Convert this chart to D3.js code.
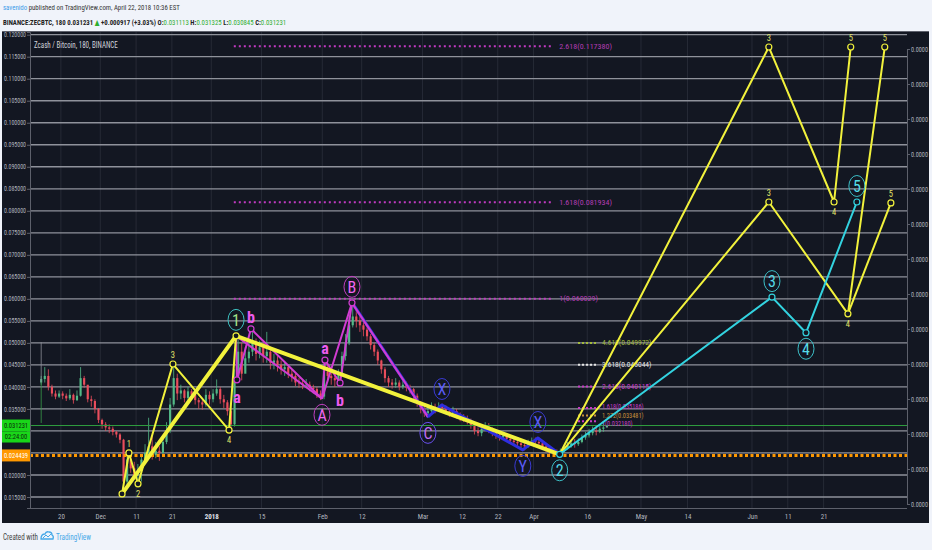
<!DOCTYPE html>
<html>
<head>
<meta charset="utf-8">
<script src="https://cdnjs.cloudflare.com/ajax/libs/d3/7.8.5/d3.min.js"></script>
<style>
  body { margin: 0; background: #f0f3fa; }
  svg { display: block; }
  text { font-family: "Liberation Sans Narrow", "Roboto Condensed", "DejaVu Sans Condensed", "Liberation Sans", sans-serif; }
</style>
</head>
<body>
<div id="chart_div"></div>
<script>
// daily candles from 2017-11-14
var candleStart = '2017-11-14T12:00Z';
var firstOpen = 0.0410;
var closes = [
  0.0418,0.0425,0.0400,0.0385,0.0378,0.0385,0.0380,0.0374,0.0382,0.0370,0.0380,0.0420,0.0405,0.0372,0.0368,0.0350,0.0325,
  0.0315,0.0308,0.0305,0.0298,0.0292,0.0280,0.0185,0.0235,0.0215,0.0200,0.0210,0.0235,0.0250,0.0265,0.0245,0.0255,0.0250,0.0275,0.0300,0.0360,0.0420,0.0385,0.0392,0.0375,0.0390,0.0382,0.0370,0.0365,0.0360,0.0382,0.0372,
  0.0385,0.0395,0.0372,0.0365,0.0345,0.0315,0.0420,0.0480,0.0430,0.0465,0.0480,0.0500,0.0475,0.0490,0.0470,0.0480,0.0455,0.0460,0.0450,0.0440,0.0445,0.0430,0.0425,0.0410,0.0408,0.0405,0.0405,0.0398,0.0395,0.0385,
  0.0378,0.0435,0.0425,0.0420,0.0415,0.0430,0.0470,0.0500,0.0540,0.0560,0.0550,0.0540,0.0530,0.0515,0.0495,0.0480,0.0460,0.0440,0.0420,0.0410,0.0405,0.0410,0.0400,0.0405,0.0398,0.0395,0.0380,0.0365,
  0.0350,0.0340,0.0345,0.0355,0.0350,0.0355,0.0352,0.0345,0.0340,0.0345,0.0335,0.0330,0.0328,0.0322,0.0312,0.0300,0.0295,0.0305,0.0310,0.0300,0.0295,0.0290,0.0285,0.0290,0.0282,0.0278,0.0275,0.0272,0.0268,0.0265,0.0272,
  0.0278,0.0275,0.0272,0.0265,0.0258,0.0255,0.0252,0.0250,0.0255,0.0262,0.0268,0.0272,0.0270,0.0275,0.0285,0.0290,0.0295,0.0300,0.0298,0.0305,0.0308,0.031231
];
var highs = [
  0.0425,0.0445,0.0440,0.0405,0.0392,0.0392,0.0390,0.0385,0.0395,0.0385,0.0392,0.0445,0.0425,0.0390,0.0380,0.0372,0.0352,
  0.0328,0.0320,0.0315,0.0310,0.0300,0.0295,0.0282,0.0250,0.0252,0.0230,0.0225,0.0245,0.0270,0.0330,0.0290,0.0275,0.0265,0.0290,0.0320,0.0375,0.0451,0.0430,0.0405,0.0395,0.0400,0.0395,0.0388,0.0375,0.0370,0.0395,0.0390,
  0.0395,0.0417,0.0400,0.0382,0.0370,0.0350,0.0440,0.0514,0.0500,0.0490,0.0500,0.0530,0.0510,0.0505,0.0500,0.0525,0.0485,0.0475,0.0470,0.0460,0.0458,0.0450,0.0440,0.0430,0.0420,0.0418,0.0418,0.0412,0.0405,0.0400,
  0.0392,0.0460,0.0450,0.0440,0.0435,0.0440,0.0480,0.0520,0.0560,0.0589,0.0575,0.0560,0.0550,0.0535,0.0520,0.0500,0.0485,0.0462,0.0445,0.0425,0.0418,0.0420,0.0415,0.0418,0.0412,0.0405,0.0398,0.0385,
  0.0368,0.0355,0.0355,0.0365,0.0362,0.0365,0.0362,0.0358,0.0352,0.0355,0.0350,0.0342,0.0338,0.0335,0.0328,0.0318,0.0308,0.0315,0.0320,0.0318,0.0308,0.0302,0.0298,0.0298,0.0295,0.0290,0.0285,0.0282,0.0278,0.0272,0.0280,
  0.0285,0.0285,0.0283,0.0278,0.0270,0.0262,0.0260,0.0258,0.0260,0.0268,0.0275,0.0280,0.0282,0.0283,0.0292,0.0298,0.0305,0.0310,0.0312,0.0315,0.0318,0.031325
];
var lows = [
  0.0405,0.0410,0.0392,0.0378,0.0372,0.0375,0.0372,0.0368,0.0370,0.0362,0.0368,0.0378,0.0398,0.0365,0.0355,0.0340,0.0318,
  0.0305,0.0300,0.0295,0.0290,0.0285,0.0272,0.0155,0.0170,0.0205,0.0190,0.0180,0.0185,0.0225,0.0240,0.0235,0.0238,0.0232,0.0245,0.0270,0.0295,0.0355,0.0370,0.0372,0.0365,0.0370,0.0372,0.0360,0.0350,0.0348,0.0355,0.0360,
  0.0365,0.0380,0.0362,0.0352,0.0335,0.0302,0.0310,0.0410,0.0415,0.0440,0.0455,0.0470,0.0460,0.0465,0.0455,0.0455,0.0440,0.0440,0.0435,0.0428,0.0425,0.0420,0.0412,0.0402,0.0398,0.0395,0.0397,0.0390,0.0385,0.0375,
  0.0370,0.0372,0.0410,0.0405,0.0400,0.0405,0.0425,0.0460,0.0495,0.0535,0.0535,0.0525,0.0515,0.0505,0.0485,0.0470,0.0450,0.0430,0.0410,0.0400,0.0396,0.0398,0.0392,0.0395,0.0390,0.0385,0.0370,0.0355,
  0.0340,0.0332,0.0331,0.0340,0.0340,0.0345,0.0342,0.0338,0.0332,0.0335,0.0328,0.0322,0.0320,0.0315,0.0305,0.0292,0.0288,0.0288,0.0300,0.0295,0.0288,0.0282,0.0278,0.0280,0.0276,0.0270,0.0268,0.0265,0.0262,0.0256,0.0262,
  0.0268,0.0268,0.0265,0.0258,0.0252,0.0248,0.0247,0.0246,0.0248,0.0250,0.0258,0.0262,0.0262,0.0266,0.0272,0.0280,0.0285,0.0290,0.0290,0.0295,0.0298,0.030845
];

var lastPrice = 0.031231;
var supportPrice = 0.024439;

var priceTicks = [0.015,0.020,0.025,0.030,0.035,0.040,0.045,0.050,0.055,0.060,0.065,0.070,0.075,0.080,0.085,0.090,0.095,0.100,0.105,0.110,0.115,0.120];
var dateTicks = ['2017-11-20','2017-12-01','2017-12-11','2017-12-21','2018-01-01','2018-01-15','2018-02-01','2018-02-12','2018-03-01','2018-03-12','2018-03-22','2018-04-01','2018-04-16','2018-05-01','2018-05-14','2018-06-01','2018-06-11','2018-06-21'];
var dateTickLabels = ['20','Dec','11','21','2018','15','Feb','12','Mar','12','22','Apr','16','May','14','Jun','11','21'];
var rightTicks = [0,1,2,3,4,5,6,7,8,9,10,11,12,13];

// wave drawings (time, price)
var yellowWave = [['2017-12-07T02:00Z',0.0157],['2017-12-09T00:00Z',0.0250],['2017-12-11T13:00Z',0.0180],['2017-12-21T07:00Z',0.0452],['2018-01-05T23:00Z',0.0302],['2018-01-07T22:00Z',0.0516]];
var yellowWaveLabels = [['',0],['1',-1],['2',1],['3',-1],['4',1],['',0]];
var yellowTrend = [['2017-12-07T02:00Z',0.0157],['2018-01-07T22:00Z',0.0516],['2018-04-08T07:00Z',0.0247]];
var pinkWaveA = [['2018-01-07T22:00Z',0.0516],['2018-01-08T04:00Z',0.0416],['2018-01-12T02:00Z',0.0532],['2018-01-31T22:00Z',0.0373]];
var pinkWaveB = [['2018-01-31T22:00Z',0.0373],['2018-02-01T18:00Z',0.0461],['2018-02-05T23:00Z',0.0409],['2018-02-09T07:00Z',0.0591]];
var pinkLegs = [
  [['2018-01-07T22:00Z',0.0516],['2018-01-31T22:00Z',0.0373]],
  [['2018-01-31T22:00Z',0.0373],['2018-02-09T07:00Z',0.0591]],
  [['2018-02-09T07:00Z',0.0591],['2018-03-02T12:00Z',0.0332]]
];
var blueLeg = [['2018-02-09T12:00Z',0.0589],['2018-03-02T16:00Z',0.0331]];
var blueWave = [['2018-03-02T12:00Z',0.0332],['2018-03-06T10:00Z',0.0359],['2018-03-29T00:00Z',0.0257],['2018-04-02T05:00Z',0.0284],['2018-04-08T07:00Z',0.0247]];
var cyanWave = [['2018-04-08T07:00Z',0.0247],['2018-06-06T14:00Z',0.0604],['2018-06-16T02:00Z',0.0523],['2018-06-30T07:00Z',0.0820]];
var yellowProjHigh = [['2018-04-08T07:00Z',0.0247],['2018-06-05T17:00Z',0.1172],['2018-06-23T22:00Z',0.0820],['2018-06-28T14:00Z',0.1172]];
var yellowProjLow = [['2018-04-08T07:00Z',0.0247],['2018-06-05T17:00Z',0.0820],['2018-06-27T19:00Z',0.0566],['2018-07-08T02:00Z',0.1172]];
var yellowProjAlt = [['2018-06-27T19:00Z',0.0566],['2018-07-09T19:00Z',0.0818]];
var projLabels = [['',0],['3',-1],['4',1],['5',-1]];
var projAltLabels = [['',0],['5',-1]];

var circleLabels = [
  ['1','2018-01-07T22:00Z',0.0516,-1,'teal1'],
  ['A','2018-01-31T22:00Z',0.0373,1,'pink'],
  ['B','2018-02-09T07:00Z',0.0591,-1,'pink'],
  ['C','2018-03-02T12:00Z',0.0332,1,'violet'],
  ['X','2018-03-06T10:00Z',0.0359,-1,'blue'],
  ['Y','2018-03-29T00:00Z',0.0257,1,'blue'],
  ['X','2018-04-02T05:00Z',0.0284,-1,'blue'],
  ['2','2018-04-08T07:00Z',0.0247,1,'teal'],
  ['3','2018-06-06T14:00Z',0.0604,-1,'teal'],
  ['4','2018-06-16T02:00Z',0.0523,1,'teal'],
  ['5','2018-06-30T07:00Z',0.0820,-1,'teal']
];
var pinkLetters = [
  ['b','2018-01-12T02:00Z',0.0532,-1],
  ['a','2018-01-08T04:00Z',0.0416,1],
  ['a','2018-02-01T18:00Z',0.0461,-1],
  ['b','2018-02-05T23:00Z',0.0409,1]
];

var fibTop = [['2.618',0.117380],['1.618',0.081934],['1',0.060029]];
var fibTopSpan = ['2018-01-07T07:00Z','2018-04-06T12:00Z'];
var fibRight = [['4.618',0.049972],['3.618',0.045044],['2.618',0.040115],['1.618',0.035186],['1.272',0.033481],['1',0.032180]];
var fibRightSpan = ['2018-04-13T10:00Z','2018-04-19T00:00Z'];
var fibRightColors = ['#a3bb3c','#e6e6e6','#c63cc6','#c63cc6','#c8903c','#c63cc6'];

function zcash_chart() {
    var W = 932, H = 550;
    var plot = {left: 30, right: 907, top: 32, bottom: 508};
    var parse = function (s) { return new Date(s); };

    var x = d3.scaleUtc()
        .domain([new Date(Date.UTC(2017, 10, 11, 9)), new Date(Date.UTC(2018, 6, 14, 7))])
        .range([plot.left, plot.right]);
    var y = d3.scaleLinear()
        .domain([0.0125, 0.12061])
        .range([plot.bottom, plot.top]);
    var yRight = d3.scaleLinear().domain([0, 13]).range([504, 49]);

    var svg = d3.select('#chart_div').append('svg')
        .attr('width', W).attr('height', H);

    svg.append('rect').attr('width', W).attr('height', H).attr('fill', '#f0f3fa');
    svg.append('rect').attr('x', 2).attr('y', 31).attr('width', 927).attr('height', 492).attr('fill', '#131722');
    svg.append('line').attr('x1', 2).attr('x2', 929).attr('y1', 31.5).attr('y2', 31.5).attr('stroke', '#5d606b');

    svg.append('clipPath').attr('id', 'plotclip').append('rect')
        .attr('x', plot.left).attr('y', plot.top)
        .attr('width', plot.right - plot.left).attr('height', plot.bottom - plot.top);

    // squeeze a text horizontally to the width seen in the picture
    function squeeze(sel, w) {
        var len = sel.node().getComputedTextLength();
        var x0 = +sel.attr('x'), y0 = +sel.attr('y');
        if (len > 0) sel.attr('transform', 'translate(' + x0 + ',' + y0 + ') scale(' + (w / len) + ',1) translate(' + (-x0) + ',' + (-y0) + ')');
    }

    // grid
    var grid = svg.append('g');
    grid.selectAll('line.v').data(dateTicks).enter().append('line')
        .attr('x1', d => x(parse(d))).attr('x2', d => x(parse(d)))
        .attr('y1', plot.top).attr('y2', plot.bottom)
        .attr('stroke', '#262a36').attr('stroke-width', 1);
    grid.selectAll('line.h').data(priceTicks).enter().append('line')
        .attr('x1', plot.left).attr('x2', plot.right)
        .attr('y1', d => y(d)).attr('y2', d => y(d))
        .attr('stroke', '#8f929b').attr('stroke-width', 1.3);

    var chart = svg.append('g').attr('clip-path', 'url(#plotclip)');

    // candles
    var day0 = parse(candleStart);
    var candles = closes.map(function (c, i) {
        return {t: d3.utcDay.offset(day0, i), o: i === 0 ? firstOpen : closes[i - 1], c: c, h: highs[i], l: lows[i]};
    });
    var bw = (x(d3.utcDay.offset(day0, 1)) - x(day0)) * 0.6;
    var cg = chart.append('g');
    cg.selectAll('line').data(candles).enter().append('line')
        .attr('x1', d => x(d.t)).attr('x2', d => x(d.t))
        .attr('y1', d => y(d.h)).attr('y2', d => y(d.l))
        .attr('stroke', d => d.c >= d.o ? '#53b987' : '#eb4d5c').attr('stroke-width', 0.8);
    cg.selectAll('rect').data(candles).enter().append('rect')
        .attr('x', d => x(d.t) - bw / 2).attr('width', bw)
        .attr('y', d => y(Math.max(d.o, d.c)))
        .attr('height', d => Math.max(0.8, Math.abs(y(d.o) - y(d.c))))
        .attr('fill', d => d.c >= d.o ? '#53b987' : '#eb4d5c');

    // start marker line
    chart.append('line').attr('x1', x(day0)).attr('x2', x(day0))
        .attr('y1', y(0.0502)).attr('y2', y(0.0410)).attr('stroke', '#8a8d96').attr('stroke-width', 0.8);
    chart.append('line').attr('x1', x(day0)).attr('x2', x(day0))
        .attr('y1', y(0.0410)).attr('y2', y(0.0318)).attr('stroke', '#3a9a4a').attr('stroke-width', 0.8);

    // price lines
    chart.append('line').attr('x1', plot.left).attr('x2', plot.right)
        .attr('y1', y(lastPrice)).attr('y2', y(lastPrice))
        .attr('stroke', '#2f9e3f').attr('stroke-width', 1);
    chart.append('line').attr('x1', plot.left).attr('x2', plot.right)
        .attr('y1', y(supportPrice)).attr('y2', y(supportPrice))
        .attr('stroke', '#ff9800').attr('stroke-width', 3).attr('stroke-dasharray', '3,2.5');

    // fib levels
    var fg = chart.append('g');
    fg.selectAll('line').data(fibTop).enter().append('line')
        .attr('x1', x(parse(fibTopSpan[0]))).attr('x2', x(parse(fibTopSpan[1])))
        .attr('y1', d => y(d[1])).attr('y2', d => y(d[1]))
        .attr('stroke', '#c23ac2').attr('stroke-width', 2).attr('stroke-dasharray', '2,3');
    fg.selectAll('text').data(fibTop).enter().append('text')
        .attr('x', x(parse(fibTopSpan[1])) + 6).attr('y', d => y(d[1]) + 2.5)
        .attr('fill', '#b43cb4').style('font-size', '8px')
        .text(d => d[0] + '(' + d[1].toFixed(6) + ')');
    var fr = chart.append('g');
    fr.selectAll('line').data(fibRight).enter().append('line')
        .attr('x1', x(parse(fibRightSpan[0]))).attr('x2', x(parse(fibRightSpan[1])))
        .attr('y1', d => y(d[1])).attr('y2', d => y(d[1]))
        .attr('stroke', (d, i) => fibRightColors[i]).attr('stroke-width', 2).attr('stroke-dasharray', '2,2');
    // the three lowest levels sit very close; nudge their labels apart a little
    var fibNudge = [0, 0, 0, -1, 0.5, 2];
    fr.selectAll('text').data(fibRight).enter().append('text')
        .attr('x', x(parse(fibRightSpan[1])) + 4).attr('y', (d, i) => y(d[1]) + 2.2 + fibNudge[i])
        .attr('fill', (d, i) => fibRightColors[i]).style('font-size', (d, i) => i > 2 ? '6.3px' : '7.5px')
        .text(d => d[0] + '(' + d[1].toFixed(6) + ')');

    // waves
    var line = d3.line().x(d => x(parse(d[0]))).y(d => y(d[1]));
    var wg = chart.append('g').attr('fill', 'none').attr('stroke-linejoin', 'round');
    function path(data, color, width) {
        wg.append('path').datum(data).attr('d', line)
            .attr('stroke', color).attr('stroke-width', width);
    }
    pinkLegs.forEach(function (d) { path(d, '#d23cd2', 2); });
    path(blueLeg, '#2e2ee0', 3);
    path(pinkLegs[2], '#d23cd2', 2);
    path(pinkWaveA, '#d23cd2', 2);
    path(pinkWaveB, '#d23cd2', 2);
    path(blueWave, '#2e2ee0', 3);
    path(yellowTrend, '#f2f23c', 4);
    path(yellowWave, '#f2f23c', 2);
    path(yellowProjHigh, '#f2f23c', 2);
    path(yellowProjLow, '#f2f23c', 2);
    path(yellowProjAlt, '#f2f23c', 2);
    path(cyanWave, '#33d3e0', 2);

    // point markers
    var mg = chart.append('g').attr('fill', '#131722').attr('stroke-width', 1.2);
    function markers(data, color) {
        mg.append('g').attr('stroke', color).selectAll('circle').data(data).enter().append('circle')
            .attr('cx', d => x(parse(d[0]))).attr('cy', d => y(d[1])).attr('r', 3);
    }
    markers(yellowWave, '#f2f23c');
    markers(yellowProjHigh.slice(1), '#f2f23c');
    markers(yellowProjLow.slice(1), '#f2f23c');
    markers(yellowProjAlt.slice(1), '#f2f23c');
    markers(pinkWaveA.slice(1, 3), '#d23cd2');
    markers(pinkWaveB.slice(1), '#d23cd2');
    markers(cyanWave, '#33d3e0');

    // small number labels
    var lg = chart.append('g').attr('text-anchor', 'middle').attr('fill', '#e4e46a').style('font-size', '8.5px');
    function numbers(data, labels) {
        data.forEach(function (d, i) {
            if (!labels[i][0]) return;
            lg.append('text').attr('x', x(parse(d[0])))
                .attr('y', y(d[1]) + (labels[i][1] < 0 ? -6 : 13))
                .text(labels[i][0]);
        });
    }
    numbers(yellowWave, yellowWaveLabels);
    numbers(yellowProjHigh, projLabels);
    numbers(yellowProjLow, projLabels);
    numbers(yellowProjAlt, projAltLabels);

    // pink a/b letters
    chart.append('g').attr('text-anchor', 'middle').attr('fill', '#ee5cee')
        .style('font-size', '16px').style('font-weight', 700)
        .selectAll('text').data(pinkLetters).enter().append('text')
        .attr('x', d => x(parse(d[1])))
        .attr('y', d => y(d[2]) + (d[3] < 0 ? -6 : 23))
        .text(d => d[0]);

    // circled wave labels
    var circleStyle = {
        teal1: {stroke: '#3cc0c0', fill: '#a6e48a'},
        teal: {stroke: '#3cc0c8', fill: '#55dbe8'},
        pink: {stroke: '#c040c0', fill: '#f066f0'},
        violet: {stroke: '#6a50f0', fill: '#c46cf4'},
        blue: {stroke: '#3a3ad2', fill: '#5c5cf6'}
    };
    var cl = chart.append('g').selectAll('g').data(circleLabels).enter().append('g')
        .attr('transform', d => 'translate(' + x(parse(d[1])) + ',' + (y(d[2]) + d[3] * 16) + ')');
    cl.append('ellipse').attr('rx', 8).attr('ry', 10.5).attr('fill', 'none')
        .attr('stroke', d => circleStyle[d[4]].stroke).attr('stroke-width', 1);
    cl.append('text').attr('text-anchor', 'middle').attr('dy', '0.36em')
        .style('font-size', '16px')
        .attr('fill', d => circleStyle[d[4]].fill).text(d => d[0]);

    // axes
    var axisColor = '#5d606b';
    var ax = svg.append('g').attr('transform', 'translate(' + plot.left + ',0)')
        .call(d3.axisLeft(y).tickValues(priceTicks).tickFormat(d3.format('.6f')).tickSize(3).tickPadding(1));
    var axR = svg.append('g').attr('transform', 'translate(' + plot.right + ',0)')
        .call(d3.axisRight(yRight).tickValues(rightTicks).tickFormat(function () { return '0.0000'; }).tickSize(3).tickPadding(1));
    var axB = svg.append('g').attr('transform', 'translate(0,' + plot.bottom + ')')
        .call(d3.axisBottom(x).tickValues(dateTicks.map(parse)).tickFormat((d, i) => dateTickLabels[i]).tickSize(0).tickPadding(6));
    [ax, axR, axB].forEach(function (a) {
        a.select('.domain').attr('stroke', axisColor);
        a.selectAll('.tick line').attr('stroke', axisColor);
        a.selectAll('.tick text').attr('fill', '#b2b5be').style('font-size', '7px').style('font-family', null);
    });
    ax.selectAll('.tick text').style('font-size', '6.5px');
    axR.selectAll('.tick text').style('font-size', '6.5px');
    axB.selectAll('.tick text').filter((d, i) => dateTickLabels[i] === '2018')
        .attr('fill', '#e0e3eb').style('font-weight', 700);
    axB.select('.domain').attr('d', 'M' + plot.left + ',0.5H' + plot.right);
    // labels hidden under the last-price and support boxes
    var boxTop = y(lastPrice) - 6, boxBottom = y(lastPrice) + 17;
    ax.selectAll('.tick text').filter(d => (y(d) > boxTop - 3 && y(d) < boxBottom + 3) || Math.abs(y(d) - y(supportPrice)) < 9)
        .remove();

    // price boxes on the left axis
    function priceBox(yc, h, bg, fg, label) {
        svg.append('rect').attr('x', 2).attr('y', yc - h / 2).attr('width', plot.left - 2).attr('height', h).attr('fill', bg);
        svg.append('text').attr('x', 16).attr('y', yc + 2.3).attr('text-anchor', 'middle')
            .attr('fill', fg).style('font-size', '6.5px').text(label);
    }
    priceBox(y(lastPrice), 12, '#19d619', '#0b2a0b', lastPrice.toFixed(6));
    priceBox(y(lastPrice) + 11.5, 11, '#19d619', '#0b2a0b', '02:24:00');
    priceBox(y(supportPrice), 12, '#ff9800', '#ffffff', supportPrice.toFixed(6));

    // chart title
    var title = svg.append('text').attr('x', 34).attr('y', 48).attr('fill', '#d1d4dc')
        .style('font-size', '9.5px').text('Zcash / Bitcoin, 180, BINANCE');
    squeeze(title, 84);

    // header
    var h1 = svg.append('text').attr('x', 3).attr('y', 10.5).style('font-size', '8px').attr('fill', '#333');
    h1.append('tspan').attr('fill', '#3d9be9').text('savenido');
    h1.append('tspan').text(' published on TradingView.com, April 22, 2018 10:36 EST');
    var h2 = svg.append('text').attr('x', 3).attr('y', 25.5).style('font-size', '8px').attr('fill', '#222').style('font-weight', 700);
    var green = '#2eae2e';
    [['BINANCE:ZECBTC, 180 0.031231 ', null], ['\u25B2', green], [' +0.000917 (+3.03%) O:', null], ['0.031113', green],
     [' H:', null], ['0.031325', green], [' L:', null], ['0.030845', green], [' C:', null], ['0.031231', green]]
        .forEach(function (p) { var t = h2.append('tspan').text(p[0]); if (p[1]) t.attr('fill', p[1]).style('font-weight', 400); });
    squeeze(h1, 177);
    squeeze(h2, 284);

    // footer
    var f1 = svg.append('text').attr('x', 3).attr('y', 540).style('font-size', '9px').attr('fill', '#444').text('Created with');
    squeeze(f1, 35);
    var logo = svg.append('g').attr('transform', 'translate(41,531)');
    logo.append('path').attr('d', 'M0,8 Q0,3 4,3 Q5,0 8,1 Q11,1 11,4 Q13,5 12,8 Z')
        .attr('fill', 'none').attr('stroke', '#46a8e8').attr('stroke-width', 1.3);
    logo.append('path').attr('d', 'M2,7 L5,4 L7,6 L10,3').attr('fill', 'none').attr('stroke', '#46a8e8').attr('stroke-width', 1);
    var f2 = svg.append('text').attr('x', 56).attr('y', 540).style('font-size', '9px').attr('fill', '#46a8e8').text('TradingView');
    squeeze(f2, 35);

    ax.selectAll('.tick text').attr('textLength', 22).attr('lengthAdjust', 'spacingAndGlyphs');
    axR.selectAll('.tick text').attr('textLength', 17).attr('lengthAdjust', 'spacingAndGlyphs');
}

document.addEventListener('DOMContentLoaded', zcash_chart);
</script>
</body>
</html>
